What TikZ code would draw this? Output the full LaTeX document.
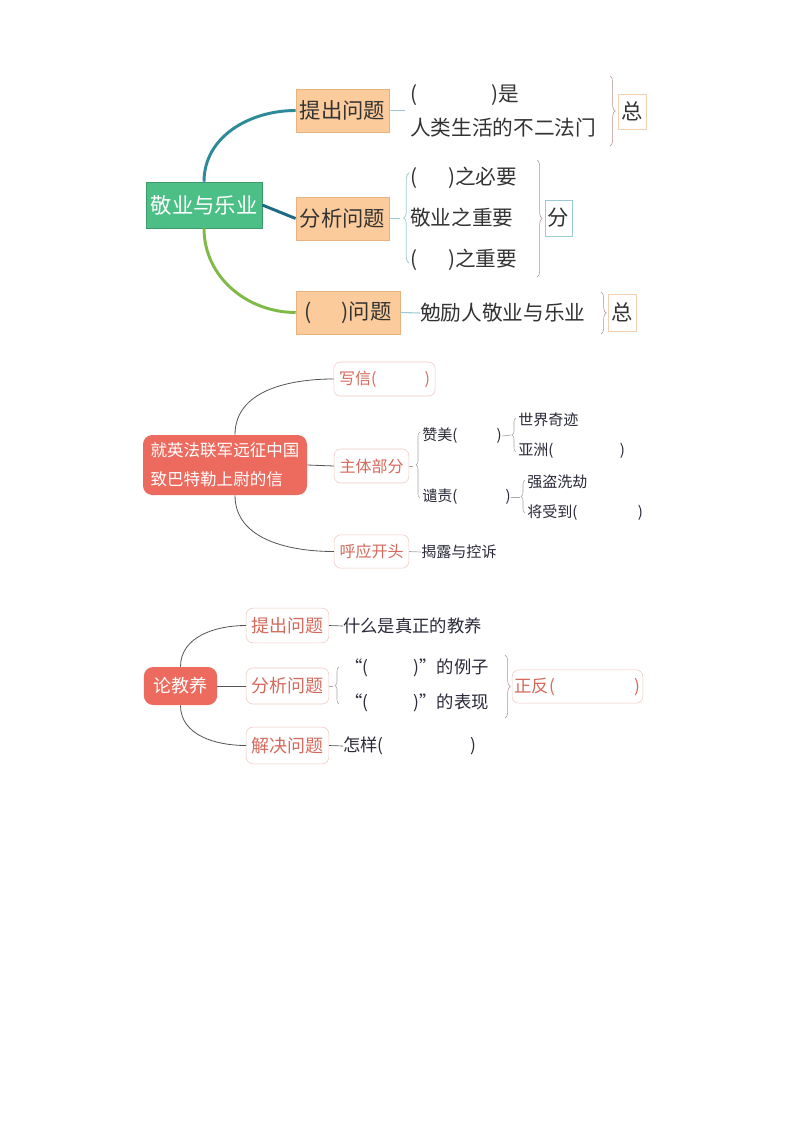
\documentclass[tikz,border=0pt]{standalone}
\usepackage{fontspec}
\setmainfont{Noto Sans CJK SC}
\usetikzlibrary{decorations.pathreplacing}
\definecolor{peach}{HTML}{FBCB9B}
\definecolor{peachb}{HTML}{E9B37F}
\definecolor{rootg}{HTML}{4CBF86}
\definecolor{brA}{HTML}{2C8A99}
\definecolor{brB}{HTML}{1C6A85}
\definecolor{brC}{HTML}{80BA46}
\definecolor{salmon}{HTML}{EC6B5E}
\definecolor{pinkb}{HTML}{F0C8C0}
\definecolor{stext}{HTML}{D46A5C}
\definecolor{txt}{HTML}{333333}
\definecolor{dtxt}{HTML}{2A2A3A}
\definecolor{brc}{HTML}{B89090}
\definecolor{lteal}{HTML}{9CCAD2}
\definecolor{gline}{HTML}{555555}
\tikzset{
 peachbox/.style={draw=peachb,fill=peach,text=txt,font=\fontsize{16}{18}\selectfont,inner sep=0pt,minimum height=32pt},
 smallbox/.style={draw=peachb!60,fill=white,text=txt,font=\fontsize{16}{18}\selectfont,inner sep=0pt},
 pinkbox/.style={draw=pinkb,fill=white,rounded corners=5pt,text=stext,inner sep=0pt},
 t1/.style={anchor=west,inner sep=0pt,text=txt,font=\fontsize{15.5}{18}\selectfont},
 t2/.style={anchor=west,inner sep=0pt,text=dtxt,font=\fontsize{11.3}{13}\selectfont},
 t3/.style={anchor=west,inner sep=0pt,text=dtxt,font=\fontsize{13}{15}\selectfont},
 rbrace/.style={decorate,decoration={brace,amplitude=4pt}},
}
\begin{document}
\begin{tikzpicture}[x=0.75pt,y=-0.75pt]
\fill[white] (0,0) rectangle (794,1123);
\useasboundingbox (0,0) rectangle (794,1123);
% ---------- Section 1
\node[fill=rootg,draw=rootg!80!black,text=white,font=\fontsize{16}{18}\selectfont,minimum width=87pt,minimum height=34.5pt,inner sep=0pt] (r1) at (204,205) {敬业与乐业};
\node[peachbox,minimum width=70pt] (a1) at (342.5,110.5) {提出问题};
\node[peachbox,minimum width=70pt] (a2) at (342.5,218.5) {分析问题};
\node[peachbox,minimum width=78pt] (a3) at (348,312.5) {(\hspace{1.4em})问题};
\draw[brA,line width=2.2pt] (r1.north) to[out=90,in=180] (a1.west);
\draw[brB,line width=2.2pt] (r1.east) -- (a2.west);
\draw[brC,line width=2.2pt] (r1.south) to[out=-90,in=180] (a3.west);
\coordinate (c1) at (405,110.5);
\draw[lteal,line width=0.8pt] (a1.east) -- (c1);
\node[t1] (p1) at (410,95) {(\hspace{3.6em})是};
\node[t1] (p2) at (410,128) {人类生活的不二法门};
\draw[brc,rbrace] (610,76) -- (610,146);
\node[smallbox,minimum width=21pt,minimum height=26pt] (z1) at (632,111.5) {总};
\coordinate (c2) at (400,218.5);
\draw[lteal,line width=0.8pt] (a2.east) -- (c2);
\draw[lteal,rbrace,line width=0.6pt] (409,263) -- (409,173);
\node[t1] (q1) at (410,178) {(\hspace{1.5em})之必要};
\node[t1] (q2) at (410,218) {敬业之重要};
\node[t1] (q3) at (410,260) {(\hspace{1.5em})之重要};
\draw[brc,rbrace] (537,160) -- (537,277);
\node[smallbox,draw=lteal,minimum width=20pt,minimum height=27pt] (f1) at (558.5,218) {分};
\node[t1] (s1) at (420,313) {勉励人敬业与乐业};
\draw[lteal,line width=0.8pt] (a3.east) -- (s1.west);
\draw[brc,rbrace] (601,292) -- (601,334);
\node[smallbox,minimum width=21pt,minimum height=28pt] (z2) at (622,312.5) {总};
% ---------- Section 2
\node[fill=salmon,rounded corners=7pt,text=white,font=\fontsize{12.4}{22}\selectfont,align=left,minimum width=123pt,minimum height=45pt,inner sep=0pt] (r2) at (225,465) {就英法联军远征中国\\致巴特勒上尉的信};
\node[pinkbox,font=\fontsize{12}{14}\selectfont,minimum width=76pt,minimum height=25.5pt] (b1) at (384.5,379) {写信(\hspace{3em})};
\node[pinkbox,font=\fontsize{12}{14}\selectfont,minimum width=56pt,minimum height=25.5pt] (b2) at (371.5,466) {主体部分};
\node[pinkbox,font=\fontsize{12}{14}\selectfont,minimum width=56pt,minimum height=25pt] (b3) at (371.5,551.5) {呼应开头};
\draw[gline,line width=0.6pt] (r2.north) ++(10,0) coordinate (r2n) to[out=90,in=180] (b1.west);
\draw[gline,line width=0.6pt] (r2.east) -- (b2.west);
\draw[gline,line width=0.6pt] (r2.south) ++(10,0) coordinate (r2s) to[out=-90,in=180] (b3.west);
\draw[gray!70,line width=0.5pt] (b2.east) -- (413,466);
\draw[gray!70,rbrace,decoration={amplitude=3pt}] (420,498) -- (420,432);
\node[t2] (z3) at (422,436) {赞美(\hspace{2.6em})};
\node[t2] (q4) at (422,497) {谴责(\hspace{3.2em})};
\draw[gray!70,rbrace,decoration={amplitude=3pt}] (516,452) -- (516,418);
\draw[gray!70,line width=0.5pt] (z3.east) -- (511,435);
\node[t2] (w1) at (518,420) {世界奇迹};
\node[t2] (w2) at (518,451) {亚洲(\hspace{4.4em})};
\draw[gray!70,rbrace,decoration={amplitude=3pt}] (525,513) -- (525,480);
\draw[gray!70,line width=0.5pt] (q4.east) -- (520,497);
\node[t2] (w3) at (527,482) {强盗洗劫};
\node[t2] (w4) at (527,513) {将受到(\hspace{4em})};
\node[t2] (w5) at (421,552) {揭露与控诉};
\draw[gray!70,line width=0.5pt] (b3.east) -- (w5.west);
% ---------- Section 3
\node[fill=salmon,rounded corners=7pt,text=white,font=\fontsize{13.5}{16}\selectfont,minimum width=55pt,minimum height=28.5pt,inner sep=0pt] (r3) at (180.5,686) {论教养};
\node[pinkbox,font=\fontsize{13.5}{16}\selectfont,minimum width=62pt,minimum height=26pt] (d1) at (287.5,625.5) {提出问题};
\node[pinkbox,font=\fontsize{13.5}{16}\selectfont,minimum width=62pt,minimum height=27pt] (d2) at (287.5,686) {分析问题};
\node[pinkbox,font=\fontsize{13.5}{16}\selectfont,minimum width=62pt,minimum height=27.5pt] (d3) at (287.5,745.5) {解决问题};
\draw[gline,line width=0.6pt] (r3.north) to[out=90,in=180] (d1.west);
\draw[gline,line width=0.6pt] (r3.east) -- (d2.west);
\draw[gline,line width=0.6pt] (r3.south) to[out=-90,in=180] (d3.west);
\node[t3] (e1) at (343,626) {什么是真正的教养};
\draw[gline,line width=0.5pt] (d1.east) -- (e1.west);
\draw[gray!70,line width=0.5pt] (d2.east) -- (333,686);
\draw[gray!70,rbrace,decoration={amplitude=3pt}] (339,704) -- (339,667);
\node[t3] (e2) at (345,668) {“(\hspace{2.6em})”的例子};
\node[t3] (e3) at (345,703) {“(\hspace{2.6em})”的表现};
\draw[brc,rbrace,decoration={amplitude=4pt}] (505,655) -- (505,718);
\node[pinkbox,font=\fontsize{13}{15}\selectfont,minimum width=98pt,minimum height=25pt] (e4) at (577.5,686.5) {正反(\hspace{4.6em})};
\node[t3] (e5) at (343,746) {怎样(\hspace{5em})};
\draw[gline,line width=0.5pt] (d3.east) -- (e5.west);
\end{tikzpicture}
\end{document}
